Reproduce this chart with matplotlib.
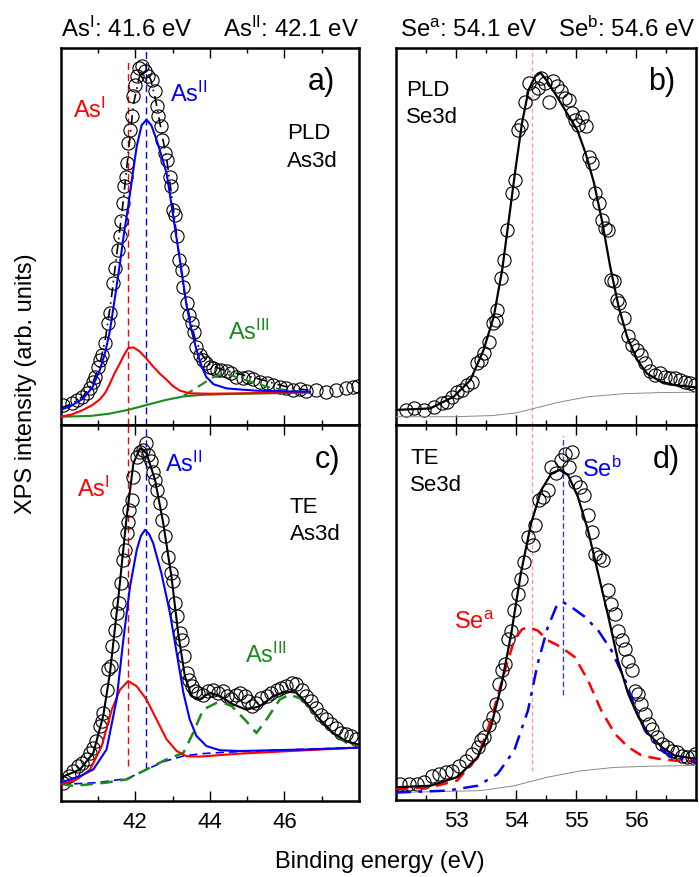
import matplotlib
matplotlib.use("Agg")
import matplotlib.pyplot as plt
from matplotlib.ticker import FixedLocator, NullFormatter

plt.rcParams['font.family'] = ['Liberation Sans', 'DejaVu Sans']
plt.rcParams['mathtext.fontset'] = 'custom'
plt.rcParams['mathtext.rm'] = 'Liberation Sans'
plt.rcParams['mathtext.it'] = 'Liberation Sans:italic'

# ---------------- As3d, PLD film (panel a) ----------------
a_E = [40.07, 40.29, 40.43, 40.56, 40.70, 40.79, 40.875, 40.92, 41.01, 41.05, 41.10, 41.19,
       41.28, 41.32, 41.41, 41.46, 41.54, 41.59, 41.63, 41.66, 41.70, 41.74, 41.79, 41.81,
       41.86, 41.90, 41.95, 41.99, 42.04, 42.11, 42.17, 42.26, 42.35, 42.44, 42.53, 42.57,
       42.62, 42.68, 42.73, 42.79, 42.86, 42.93, 42.97, 43.02, 43.06, 43.11, 43.18, 43.24,
       43.29, 43.375, 43.45, 43.51, 43.57, 43.64, 43.73, 43.82, 43.91, 44.0, 44.09, 44.18,
       44.31, 44.45, 44.58, 44.71, 44.89, 45.03, 45.16, 45.34, 45.52, 45.70, 45.875, 46.05,
       46.23, 46.41, 46.59, 46.86, 47.125, 47.39, 47.66, 47.84, 47.97]
a_I = [5.3, 5.9, 6.6, 7.5, 8.4, 9.7, 11.5, 12.8, 15.5, 17.3, 18.6, 21.7,
       27.0, 29.6, 37.6, 41.6, 46.5, 50.0, 54.0, 58.8, 63.3, 65.9, 69.5, 74.8,
       78.3, 81.9, 87.2, 90.3, 92.5, 94.7, 95.3, 93.8, 92.5, 91.6, 88.5, 84.5,
       81.9, 79.2, 75.7, 72.1, 70.4, 65.9, 63.3, 57.1, 55.8, 50.0, 43.8, 41.2,
       36.7, 32.3, 29.2, 27.0, 24.8, 20.8, 18.6, 17.3, 16.4, 15.5, 15.0, 14.6,
       14.6, 14.2, 13.7, 12.8, 12.4, 12.8, 12.1, 11.5, 11.1, 10.6, 10.2, 9.7,
       9.3, 9.5, 9.1, 9.3, 8.8, 9.3, 9.7, 10.2, 10.4]

a_fit_E = [40.0, 40.3, 40.6, 40.85, 41.05, 41.2, 41.35, 41.5, 41.65, 41.8, 41.95, 42.1,
           42.2, 42.3, 42.42, 42.55, 42.7, 42.85, 43.0, 43.15, 43.3, 43.45, 43.6, 43.8,
           44.0, 44.3, 44.6, 45.0, 45.4, 45.8, 46.2, 46.68]
a_fit_I = [4.5, 5.6, 7.6, 11.0, 16.0, 23.0, 33.0, 45.0, 57.0, 71.0, 85.0, 92.0,
           94.0, 94.0, 91.5, 86.0, 78.0, 70.0, 59.0, 47.0, 36.0, 29.0, 23.0, 18.5,
           16.0, 14.8, 14.0, 13.0, 12.0, 10.8, 9.8, 9.2]

a_as2_E = [40.0, 40.3, 40.6, 40.85, 41.05, 41.2, 41.32, 41.45, 41.59, 41.7, 41.81, 41.93,
           42.04, 42.17, 42.30, 42.43, 42.57, 42.7, 42.84, 42.97, 43.1, 43.24, 43.37, 43.5,
           43.64, 43.77, 43.9, 44.1, 44.45, 45.25, 46.68]
a_as2_I = [4.0, 5.2, 7.0, 10.0, 14.6, 19.5, 25.0, 33.5, 43.0, 51.0, 58.0, 66.5,
           74.0, 79.5, 81.0, 79.5, 75.7, 71.5, 66.8, 58.5, 50.0, 41.0, 32.0, 25.5,
           20.0, 15.8, 12.8, 10.8, 9.7, 9.1, 8.8]

a_as1_E = [40.0, 40.3, 40.6, 40.85, 41.05, 41.2, 41.32, 41.45, 41.59, 41.7, 41.81, 41.95,
           42.12, 42.3, 42.48, 42.66, 42.84, 43.0, 43.2, 43.46, 44.0, 44.8, 46.68]
a_as1_I = [2.2, 2.8, 4.0, 5.3, 6.8, 8.6, 11.0, 13.8, 16.4, 18.6, 20.4, 20.6,
           19.5, 17.6, 15.5, 13.6, 12.0, 10.4, 9.1, 8.4, 8.3, 8.4, 8.7]

a_bg_E = [40.0, 40.8, 41.3, 41.8, 42.3, 42.8, 43.3, 43.8, 44.5, 46.68]
a_bg_I = [2.2, 2.4, 3.0, 4.0, 5.3, 6.6, 7.6, 8.0, 8.2, 8.6]

a_as3_E = [43.3, 43.55, 43.82, 44.05, 44.3, 44.55, 44.8, 45.05, 45.25, 45.6, 46.0, 46.4, 46.68]
a_as3_I = [7.8, 9.3, 11.0, 12.5, 13.4, 13.3, 12.4, 11.6, 11.0, 10.0, 9.3, 8.9, 8.7]

# ---------------- As3d, TE film (panel c) ----------------
c_E = [40.07, 40.21, 40.34, 40.47, 40.56, 40.70, 40.79, 40.875, 40.96, 41.05, 41.10, 41.14,
       41.23, 41.28, 41.34, 41.37, 41.46, 41.52, 41.56, 41.62, 41.68, 41.72, 41.79, 41.81,
       41.84, 41.90, 41.95, 42.04, 42.125, 42.21, 42.30, 42.35, 42.41, 42.48, 42.53, 42.59,
       42.66, 42.73, 42.79, 42.88, 42.96, 43.0, 43.06, 43.11, 43.2, 43.24, 43.30, 43.375,
       43.45, 43.51, 43.60, 43.69, 43.82, 43.955, 44.09, 44.22, 44.36, 44.45, 44.58, 44.71,
       44.80, 44.94, 45.03, 45.12, 45.25, 45.38, 45.52, 45.65, 45.79, 45.92, 46.05, 46.19,
       46.32, 46.46, 46.59, 46.72, 46.86, 46.99, 47.125, 47.26, 47.39, 47.53, 47.66, 47.79,
       47.93]
c_I = [4.9, 6.6, 8.0, 9.3, 10.2, 11.1, 12.8, 14.2, 15.9, 19.9, 21.2, 23.5,
       29.6, 35.0, 35.8, 41.2, 45.6, 50.0, 52.7, 58.0, 64.2, 66.8, 71.2, 74.3,
       77.4, 80.1, 86.3, 91.6, 92.9, 93.4, 95.1, 92.0, 90.3, 87.6, 85.4, 82.7,
       79.2, 74.8, 70.4, 65.0, 60.6, 58.4, 52.7, 49.1, 44.7, 42.9, 38.5, 34.1,
       32.3, 30.5, 29.2, 28.8, 28.3, 29.2, 29.6, 28.8, 29.2, 27.9, 27.0, 28.3,
       28.8, 27.9, 26.5, 25.2, 26.1, 27.4, 27.9, 28.8, 29.6, 30.1, 30.5, 31.4,
       31.0, 29.6, 27.9, 26.5, 24.8, 23.0, 21.7, 20.4, 19.5, 18.1, 17.7, 17.3,
       16.4]

c_fit_E = [40.0, 40.52, 40.875, 41.14, 41.32, 41.54, 41.77, 41.95, 42.125, 42.30, 42.53, 42.75,
           42.97, 43.15, 43.33, 43.51, 43.73, 44.0, 44.27, 44.625, 44.98, 45.34, 45.70, 46.05,
           46.32, 46.59, 46.95, 47.30, 47.66, 48.0]
c_fit_I = [6.2, 8.4, 12.8, 22.6, 34.0, 53.5, 75.7, 89.8, 93.8, 92.5, 85.4, 73.9,
           59.7, 44.7, 33.2, 27.9, 27.0, 28.8, 27.9, 25.7, 24.3, 25.2, 27.9, 29.2,
           28.8, 26.1, 21.7, 18.1, 15.9, 15.0]

c_as2_E = [40.0, 40.52, 40.875, 41.23, 41.5, 41.68, 41.86, 42.04, 42.15, 42.26, 42.37, 42.48,
           42.7, 42.93, 43.11, 43.29, 43.46, 43.64, 43.91, 44.27, 44.8, 45.7, 46.59, 48.0]
c_as2_I = [4.9, 6.6, 8.4, 13.7, 27.0, 42.9, 57.1, 66.8, 70.5, 72.1, 71.0, 68.6,
           60.6, 50.0, 39.4, 28.8, 21.7, 17.3, 14.6, 13.5, 13.3, 13.5, 13.7, 14.2]

c_as1_E = [40.0, 40.43, 40.79, 41.1, 41.37, 41.59, 41.81, 42.04, 42.3, 42.57, 42.84, 43.11,
           43.375, 43.73, 44.8, 46.59, 48.0]
c_as1_I = [4.4, 5.75, 8.4, 14.6, 24.3, 29.6, 31.9, 30.5, 27.0, 21.7, 16.4, 13.3,
           11.9, 11.8, 12.6, 13.5, 14.2]

c_as3_E = [40.0, 40.34, 41.23, 41.77, 42.3, 42.84, 43.29, 43.55, 43.82, 44.18, 44.54, 44.98,
           45.25, 45.52, 45.875, 46.14, 46.5, 46.86, 47.3, 47.66, 48.0]
c_as3_I = [4.6, 4.0, 4.9, 5.75, 8.4, 11.1, 12.8, 18.1, 24.3, 26.1, 25.7, 21.2,
           18.1, 21.7, 27.0, 28.3, 27.0, 22.6, 18.1, 15.5, 14.6]

c_bg_E = [40.0, 41.0, 41.8, 42.3, 42.8, 43.3, 43.8, 44.5, 46.0, 48.0]
c_bg_I = [4.4, 4.9, 6.0, 8.4, 10.6, 12.0, 12.6, 13.0, 13.6, 14.2]

# ---------------- Se3d, PLD film (panel b) ----------------
b_E = [52.16, 52.30, 52.46, 52.63, 52.77, 52.85, 52.94, 53.02, 53.095, 53.18, 53.27, 53.35,
       53.41, 53.47, 53.55, 53.61, 53.66, 53.69, 53.75, 53.80, 53.85, 53.94, 53.99, 54.04,
       54.08, 54.15, 54.22, 54.28, 54.36, 54.42, 54.49, 54.55, 54.61, 54.68, 54.75, 54.82,
       54.88, 54.93, 54.99, 55.04, 55.10, 55.16, 55.21, 55.27, 55.32, 55.38, 55.44, 55.49,
       55.54, 55.58, 55.63, 55.68, 55.72, 55.80, 55.87, 55.94, 56.01, 56.08, 56.15, 56.23,
       56.32, 56.40, 56.49, 56.57, 56.65, 56.74, 56.82, 56.90, 56.99]
b_I = [4.0, 4.4, 4.0, 4.9, 5.75, 6.2, 7.5, 8.8, 9.3, 10.6, 11.5, 16.4,
       17.3, 19.0, 22.1, 27.0, 27.9, 30.5, 38.9, 43.8, 51.8, 61.5, 65.0, 78.3,
       79.6, 85.8, 90.7, 88.1, 89.4, 92.0, 90.7, 85.8, 91.2, 89.8, 88.5, 86.7,
       86.3, 82.7, 81.0, 79.6, 81.7, 79.2, 71.2, 69.5, 61.5, 58.8, 54.4, 52.2,
       51.8, 38.5, 38.1, 33.2, 32.3, 28.3, 23.5, 21.2, 19.9, 18.6, 16.4, 14.2,
       13.3, 13.7, 12.8, 12.4, 12.4, 11.9, 11.5, 11.1, 10.6]

b_fit_E = [52.0, 52.57, 52.96, 53.24, 53.46, 53.63, 53.77, 53.88, 53.99, 54.1, 54.21, 54.32,
           54.41, 54.52, 54.68, 54.85, 55.02, 55.16, 55.3, 55.43, 55.57, 55.71, 55.85, 56.02,
           56.18, 56.41, 56.63, 57.0]
b_fit_I = [4.0, 4.4, 7.5, 11.9, 19.9, 28.8, 41.2, 54.4, 67.7, 80.1, 88.9, 92.5,
           93.4, 91.2, 87.2, 82.7, 78.3, 72.1, 64.2, 54.4, 42.0, 31.4, 23.5, 17.3,
           13.7, 11.5, 10.6, 10.0]

b_bg_E = [52.0, 53.0, 53.6, 54.0, 54.3, 54.7, 55.2, 55.8, 56.4, 57.0]
b_bg_I = [2.2, 2.2, 2.5, 3.2, 4.4, 6.0, 7.5, 8.3, 8.6, 8.7]

# ---------------- Se3d, TE film (panel d) ----------------
d_E = [52.07, 52.21, 52.35, 52.46, 52.60, 52.72, 52.83, 52.94, 53.05, 53.16, 53.27, 53.36,
       53.41, 53.47, 53.55, 53.61, 53.66, 53.72, 53.77, 53.82, 53.86, 53.92, 53.97, 54.03,
       54.08, 54.14, 54.20, 54.28, 54.32, 54.39, 54.45, 54.53, 54.59, 54.67, 54.75, 54.81,
       54.89, 54.93, 54.99, 55.06, 55.13, 55.20, 55.26, 55.31, 55.38, 55.45, 55.54, 55.59,
       55.65, 55.70, 55.76, 55.82, 55.87, 55.93, 55.98, 56.04, 56.09, 56.15, 56.21, 56.26,
       56.35, 56.43, 56.51, 56.60, 56.68, 56.77, 56.85, 56.93, 56.99]
d_I = [4.3, 4.3, 4.3, 4.7, 6.5, 6.9, 7.4, 7.8, 9.2, 10.5, 12.3, 14.1,
       15.9, 16.7, 19.9, 22.1, 25.6, 31.0, 34.6, 36.3, 43.0, 45.2, 50.6, 55.0,
       59.0, 63.5, 70.2, 67.9, 73.3, 80.0, 80.9, 82.6, 88.9, 87.1, 90.6, 92.4,
       88.9, 92.9, 84.9, 83.5, 81.3, 76.0, 71.5, 65.7, 64.8, 63.9, 55.9, 52.4,
       49.7, 45.2, 42.6, 40.3, 37.2, 34.6, 29.2, 28.3, 25.6, 23.0, 20.3, 19.0,
       16.7, 15.0, 14.1, 13.2, 12.7, 11.8, 11.4, 11.4, 12.3]

d_fit_E = [52.0, 52.575, 53.02, 53.36, 53.58, 53.75, 53.92, 54.08, 54.25, 54.42, 54.59, 54.73,
           54.87, 55.03, 55.2, 55.37, 55.54, 55.7, 55.87, 56.04, 56.21, 56.43, 56.65, 57.0]
d_fit_I = [3.4, 3.8, 6.1, 11.4, 19.4, 30.1, 44.3, 60.4, 73.7, 82.6, 87.1, 88.0,
           86.6, 80.9, 71.9, 60.4, 48.8, 37.2, 28.3, 22.1, 17.6, 14.1, 11.8, 11.0]

d_sea_E = [52.0, 52.575, 53.02, 53.36, 53.58, 53.8, 53.97, 54.1, 54.2, 54.36, 54.53, 54.75,
           54.98, 55.2, 55.42, 55.65, 55.87, 56.1, 56.37, 56.65, 57.0]
d_sea_I = [2.9, 3.4, 5.2, 11.4, 21.2, 33.7, 42.6, 45.5, 46.1, 45.2, 42.6, 40.8,
           38.1, 31.9, 23.9, 17.6, 14.1, 11.8, 11.0, 10.5, 10.3]

d_seb_E = [52.0, 52.85, 53.36, 53.69, 53.97, 54.2, 54.36, 54.53, 54.67, 54.78, 54.92, 55.15,
           55.37, 55.59, 55.82, 55.98, 56.15, 56.37, 56.6, 57.0]
d_seb_I = [2.0, 2.5, 3.8, 6.9, 13.2, 23.9, 36.3, 46.1, 51.5, 52.8, 51.5, 48.8,
           45.2, 39.9, 31.9, 24.8, 18.5, 14.1, 11.4, 10.1]

d_bg_E = [52.0, 53.41, 53.97, 54.53, 55.09, 55.65, 56.2, 57.0]
d_bg_I = [2.0, 2.5, 3.8, 6.1, 7.8, 8.7, 9.0, 9.2]

# binding-energy markers
as1_pos, as2_pos = 41.81, 42.30
sea_pos, seb_pos = 54.26, 54.79

RED = '#ff0000'
BLUE = '#0000ff'
GREEN = '#1a8a1a'
PINK = '#ff9a9a'

W, H = 699, 877
fig = plt.figure(figsize=(W / 100, H / 100), dpi=100)


def rect(x0, y0, x1, y1):
    return [x0 / W, 1 - y1 / H, (x1 - x0) / W, (y1 - y0) / H]


ax_a = fig.add_axes(rect(60.7, 48, 359, 425))
ax_c = fig.add_axes(rect(60.7, 425, 359, 801))
ax_b = fig.add_axes(rect(396, 48, 696, 425))
ax_d = fig.add_axes(rect(396, 425, 696, 800))


def style(ax, xlim, major, minor, labels):
    ax.set_xlim(*xlim)
    ax.set_ylim(0, 100)
    ax.xaxis.set_major_locator(FixedLocator(major))
    ax.xaxis.set_minor_locator(FixedLocator(minor))
    ax.set_yticks([])
    for s in ax.spines.values():
        s.set_linewidth(1.8)
    ax.tick_params(axis='x', which='both', direction='in', top=True, bottom=True,
                   labelsize=16, pad=8, labelbottom=labels)
    ax.tick_params(axis='x', which='major', length=7, width=1.0)
    ax.tick_params(axis='x', which='minor', length=3.5, width=1.0)
    if not labels:
        ax.xaxis.set_major_formatter(NullFormatter())


style(ax_a, (40, 48), [42, 44, 46], [41, 43, 45, 47], False)
style(ax_c, (40, 48), [42, 44, 46], [41, 43, 45, 47], True)
style(ax_b, (52, 57), [53, 54, 55, 56], [52.5, 53.5, 54.5, 55.5, 56.5], False)
style(ax_d, (52, 57), [53, 54, 55, 56], [52.5, 53.5, 54.5, 55.5, 56.5], True)

circ = dict(ls='none', marker='o', ms=9.5, mfc='none', mec='black', mew=0.8, zorder=2)

# panel a
ax_a.plot(a_E, a_I, **circ)
ax_a.plot(a_bg_E, a_bg_I, color=GREEN, lw=1.5, zorder=3)
ax_a.plot(a_as3_E, a_as3_I, color=GREEN, lw=1.5, ls=(0, (5, 3)), zorder=3)
ax_a.plot(a_as1_E, a_as1_I, color=RED, lw=1.5, zorder=3)
ax_a.plot(a_as2_E, a_as2_I, color=BLUE, lw=1.5, zorder=4)
ax_a.plot(a_fit_E, a_fit_I, color='black', lw=1.2, ls=(0, (6, 3, 1, 3)), zorder=3)
ax_a.plot([as1_pos, as1_pos], [0, 96.5], color=RED, lw=1.0, ls=(0, (5, 3)), zorder=1)
ax_a.plot([as2_pos, as2_pos], [0, 100], color=BLUE, lw=1.0, ls=(0, (5, 3)), zorder=1)

# panel c
ax_c.plot(c_E, c_I, **circ)
ax_c.plot(c_bg_E, c_bg_I, color=BLUE, lw=1.2, ls=(0, (5, 3)), zorder=3)
ax_c.plot(c_as3_E, c_as3_I, color=GREEN, lw=1.8, ls=(0, (5, 3)), zorder=3)
ax_c.plot(c_as1_E, c_as1_I, color=RED, lw=1.5, zorder=3)
ax_c.plot(c_as2_E, c_as2_I, color=BLUE, lw=1.5, zorder=3)
ax_c.plot(c_fit_E, c_fit_I, color='black', lw=1.5, zorder=4)
ax_c.plot([as1_pos, as1_pos], [9.3, 100], color=RED, lw=1.0, ls=(0, (5, 3)), zorder=1)
ax_c.plot([as2_pos, as2_pos], [8.4, 100], color=BLUE, lw=1.0, ls=(0, (5, 3)), zorder=1)

# panel b
ax_b.plot(b_E, b_I, **circ)
ax_b.plot(b_bg_E, b_bg_I, color='#888888', lw=0.7, zorder=3)
ax_b.plot(b_fit_E, b_fit_I, color='black', lw=1.6, zorder=4)
ax_b.plot([sea_pos, sea_pos], [0, 100], color=PINK, lw=1.0, ls=(0, (3, 2)), zorder=1)

# panel d
ax_d.plot(d_E, d_I, **circ)
ax_d.plot(d_bg_E, d_bg_I, color='#888888', lw=0.7, zorder=3)
ax_d.plot(d_sea_E, d_sea_I, color=RED, lw=1.8, ls=(0, (5, 3)), zorder=3)
ax_d.plot(d_seb_E, d_seb_I, color=BLUE, lw=1.8, ls=(0, (6, 3, 1.5, 3)), zorder=3)
ax_d.plot(d_fit_E, d_fit_I, color='black', lw=1.6, zorder=4)
ax_d.plot([sea_pos, sea_pos], [7.8, 100], color=PINK, lw=1.0, ls=(0, (3, 2)), zorder=1)
ax_d.plot([seb_pos, seb_pos], [27.9, 97], color='#3a3aff', lw=1.0, ls=(0, (4, 2)), zorder=1)

# binding energies above the top panels
top_kw = dict(fontsize=17.3, va='baseline')
ax_a.text(0, 1.029, r'As$^{\rm I}$: 41.6 eV', ha='left', transform=ax_a.transAxes, **top_kw)
ax_a.text(1, 1.029, r'As$^{\rm II}$: 42.1 eV', ha='right', transform=ax_a.transAxes, **top_kw)
ax_b.text(0.015, 1.029, r'Se$^{\rm a}$: 54.1 eV', ha='left', transform=ax_b.transAxes, **top_kw)
ax_b.text(1, 1.029, r'Se$^{\rm b}$: 54.6 eV', ha='right', transform=ax_b.transAxes, **top_kw)

# panel tags
for ax, tag, x, y in [(ax_a, 'a)', 0.92, 0.91), (ax_b, 'b)', 0.93, 0.91),
                      (ax_c, 'c)', 0.937, 0.907), (ax_d, 'd)', 0.947, 0.906)]:
    ax.text(x, y, tag, fontsize=22, ha='right', va='center', transform=ax.transAxes)

# sample descriptions
desc_kw = dict(fontsize=16, ha='left', va='top', linespacing=1.4)
ax_a.text(0.759, 0.80, 'PLD\nAs3d', transform=ax_a.transAxes, **desc_kw)
ax_b.text(0.033, 0.915, 'PLD\nSe3d', transform=ax_b.transAxes, **desc_kw)
ax_c.text(0.768, 0.809, 'TE\nAs3d', transform=ax_c.transAxes, **desc_kw)
ax_d.text(0.047, 0.939, 'TE\nSe3d', transform=ax_d.transAxes, **desc_kw)

# component labels
lab_kw = dict(fontsize=17, ha='left', va='baseline')
ax_a.text(0.041, 0.814, r'As$^{\rm I}$', color=RED, transform=ax_a.transAxes, **lab_kw)
ax_a.text(0.366, 0.857, r'As$^{\rm II}$', color=BLUE, transform=ax_a.transAxes, **lab_kw)
ax_a.text(0.561, 0.225, r'As$^{\rm III}$', color=GREEN, transform=ax_a.transAxes, **lab_kw)
ax_c.text(0.055, 0.809, r'As$^{\rm I}$', color=RED, transform=ax_c.transAxes, **lab_kw)
ax_c.text(0.35, 0.875, r'As$^{\rm II}$', color=BLUE, transform=ax_c.transAxes, **lab_kw)
ax_c.text(0.618, 0.367, r'As$^{\rm III}$', color=GREEN, transform=ax_c.transAxes, **lab_kw)
ax_d.text(0.62, 0.861, r'Se$^{\rm b}$', color=BLUE, transform=ax_d.transAxes, **lab_kw)
ax_d.text(0.193, 0.457, r'Se$^{\rm a}$', color=RED, transform=ax_d.transAxes, **lab_kw)

fig.text(380 / W, 1 - 862 / H, 'Binding energy (eV)', fontsize=17, ha='center', va='center')
fig.text(26 / W, 1 - 384 / H, 'XPS intensity (arb. units)', fontsize=17, ha='center',
         va='center', rotation=90)

fig.savefig('out.png', dpi=100)
